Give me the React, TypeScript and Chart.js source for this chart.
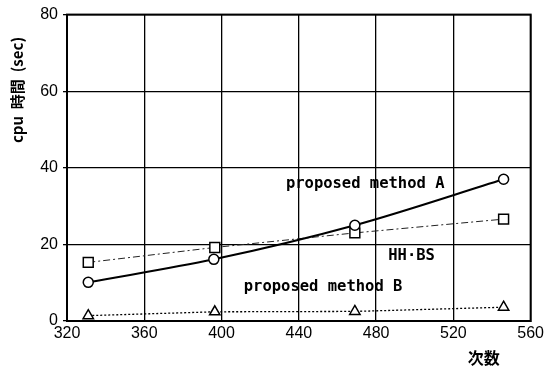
import React, { useEffect, useRef } from "react";
import { Chart, registerables } from "chart.js";

Chart.register(...registerables);

const methodAX = [331, 396, 469, 546];
const methodAY = [10.1, 16.1, 25.0, 37.0];
const hhbsX = [331, 396.5, 469, 546];
const hhbsY = [15.3, 19.2, 23.0, 26.6];
const methodBX = [331, 396.5, 469, 546];
const methodBY = [1.4, 2.4, 2.5, 3.6];

const xTicks = [320, 360, 400, 440, 480, 520, 560];
const yTicks = [0, 20, 40, 60, 80];

const yTitle = "cpu  時間  (sec)";
const xTitle = "次数";

const textLabels = [
  { text: "proposed method A", x: 433.3, y: 35.8 },
  { text: "HH·BS", x: 486.3, y: 16.9 },
  { text: "proposed method B", x: 411.5, y: 8.8 },
];

function pts(xs: number[], ys: number[]) {
  return xs.map((x, i) => ({ x, y: ys[i] }));
}

const overlayPlugin = {
  id: "overlay",
  afterDraw(chart: any) {
    const { ctx, chartArea, scales } = chart;
    ctx.save();
    // frame
    ctx.strokeStyle = "#000";
    ctx.lineWidth = 2;
    ctx.strokeRect(chartArea.left, chartArea.top, chartArea.right - chartArea.left, chartArea.bottom - chartArea.top);
    // in-plot labels
    ctx.fillStyle = "#000";
    ctx.font = "bold 15.5px 'DejaVu Sans Mono'";
    ctx.textAlign = "left";
    ctx.textBaseline = "middle";
    for (const l of textLabels) {
      ctx.fillText(l.text, scales.x.getPixelForValue(l.x), scales.y.getPixelForValue(l.y));
    }
    // x title
    ctx.font = "bold 16px 'Noto Sans CJK JP'";
    ctx.textAlign = "center";
    ctx.fillText(xTitle, chartArea.right - 47, chartArea.bottom + 37);
    // y title
    ctx.translate(17, 90);
    ctx.rotate(-Math.PI / 2);
    ctx.font = "bold 15px 'Noto Sans CJK JP'";
    ctx.fillText(yTitle, 0, 0);
    ctx.restore();
  },
};

export default function App() {
  const ref = useRef<HTMLCanvasElement | null>(null);
  useEffect(() => {
    if (!ref.current) return;
    const chart = new Chart(ref.current, {
      type: "scatter",
      data: {
        datasets: [
          {
            label: "proposed method A",
            data: pts(methodAX, methodAY),
            showLine: true,
            borderColor: "#000",
            borderWidth: 2,
            cubicInterpolationMode: "monotone",
            pointStyle: "circle",
            pointRadius: 5,
            pointBorderWidth: 1.5,
            pointBackgroundColor: "#fff",
            pointBorderColor: "#000",
          },
          {
            label: "HH·BS",
            data: pts(hhbsX, hhbsY),
            showLine: true,
            borderColor: "#222",
            borderWidth: 1,
            borderDash: [7, 3, 2, 3],
            pointStyle: "rect",
            pointRadius: 7,
            pointBorderWidth: 1.5,
            pointBackgroundColor: "#fff",
            pointBorderColor: "#000",
          },
          {
            label: "proposed method B",
            data: pts(methodBX, methodBY),
            showLine: true,
            borderColor: "#000",
            borderWidth: 1.3,
            borderDash: [2, 2],
            pointStyle: "triangle",
            pointRadius: 6,
            pointBorderWidth: 1.5,
            pointBackgroundColor: "#fff",
            pointBorderColor: "#000",
          },
        ],
      },
      options: {
        responsive: false,
        animation: false,
        layout: { padding: { left: 0, top: 13, right: 14, bottom: 0 } },
        plugins: { legend: { display: false }, tooltip: { enabled: false } },
        scales: {
          x: {
            type: "linear",
            min: 320,
            max: 560,
            afterBuildTicks: (s: any) => {
              s.ticks = xTicks.map((v) => ({ value: v }));
            },
            afterFit: (s: any) => {
              s.height = 49;
            },
            grid: { color: "#000", lineWidth: 1.3, drawTicks: false },
            border: { color: "#000", width: 2 },
            ticks: {
              color: "#000",
              padding: 3,
              maxRotation: 0,
              font: { family: "'Liberation Sans'", size: 16 },
            },
          },
          y: {
            type: "linear",
            min: 0,
            max: 80,
            afterBuildTicks: (s: any) => {
              s.ticks = yTicks.map((v) => ({ value: v }));
            },
            afterFit: (s: any) => {
              s.width = 67;
            },
            grid: { color: "#000", lineWidth: 1.3, drawTicks: true, tickLength: 4 },
            border: { color: "#000", width: 2 },
            ticks: {
              color: "#000",
              padding: 5,
              font: { family: "'Liberation Sans'", size: 16 },
            },
          },
        },
      },
      plugins: [overlayPlugin],
    });
    return () => chart.destroy();
  }, []);
  return (
    <div style={{ position: "fixed", left: 0, top: 0, width: 547, height: 370, background: "#fff" }}>
      <canvas ref={ref} width={547} height={370} style={{ width: 547, height: 370 }} />
    </div>
  );
}
